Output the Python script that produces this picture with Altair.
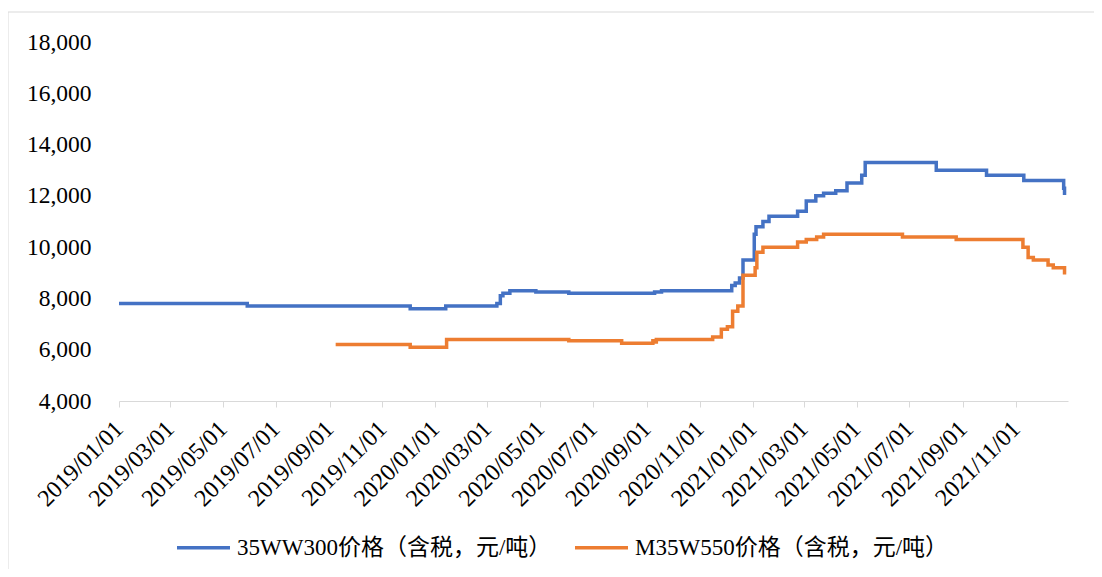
import altair as alt
import pandas as pd

S1 = "35WW300价格（含税，元/吨）"
S2 = "M35W550价格（含税，元/吨）"

blue_dates = ["2019-01-01", "2019-05-29", "2019-12-03", "2020-01-13", "2020-03-12", "2020-03-16",
              "2020-03-19", "2020-03-27", "2020-04-26", "2020-06-03", "2020-09-10", "2020-09-18",
              "2020-12-08", "2020-12-12", "2020-12-17", "2020-12-21", "2021-01-03", "2021-01-05",
              "2021-01-13", "2021-01-20", "2021-02-22", "2021-03-04", "2021-03-15", "2021-03-24",
              "2021-04-07", "2021-04-20", "2021-05-07", "2021-05-11", "2021-08-01", "2021-09-28",
              "2021-11-10", "2021-12-26", "2021-12-27", "2021-12-29"]
blue_vals = [7800, 7700, 7600, 7700, 7800, 8100,
             8200, 8300, 8250, 8200, 8250, 8300,
             8500, 8600, 8800, 9500, 10500, 10800,
             11000, 11200, 11400, 11800, 12000, 12100,
             12200, 12500, 12800, 13300, 13000, 12800,
             12600, 12300, 12100, 12100]

orange_dates = ["2019-09-08", "2019-12-03", "2020-01-14", "2020-06-03", "2020-08-03", "2020-09-08",
                "2020-09-10", "2020-09-12", "2020-11-16", "2020-11-26", "2020-12-03", "2020-12-09",
                "2020-12-15", "2020-12-21", "2021-01-04", "2021-01-06", "2021-01-13", "2021-02-22",
                "2021-03-04", "2021-03-16", "2021-03-24", "2021-06-23", "2021-08-24", "2021-11-09",
                "2021-11-15", "2021-11-21", "2021-12-08", "2021-12-14", "2021-12-27", "2021-12-29"]
orange_vals = [6200, 6100, 6400, 6350, 6250, 6350,
               6300, 6400, 6500, 6800, 6900, 7500,
               7700, 8900, 9200, 9800, 10000, 10200,
               10300, 10400, 10500, 10400, 10300, 10000,
               9600, 9500, 9300, 9200, 9000, 9000]

y_ticks = [4000, 6000, 8000, 10000, 12000, 14000, 16000, 18000]

df = pd.concat([
    pd.DataFrame({"date": blue_dates, "price": blue_vals, "series": S1}),
    pd.DataFrame({"date": orange_dates, "price": orange_vals, "series": S2}),
])

FONT = "Liberation Serif"
LFONT = "Liberation Serif, Noto Sans CJK SC"

x_ticks = []
for yr in (2019, 2020, 2021):
    for m in (1, 3, 5, 7, 9, 11):
        x_ticks.append(alt.DateTime(year=yr, month=m, date=1, utc=True))

lines = alt.Chart(df).mark_line(interpolate="step-after", strokeWidth=3.5).encode(
    x=alt.X("date:T",
            scale=alt.Scale(type="utc",
                            domain=[alt.DateTime(year=2019, month=1, date=1, utc=True),
                                    alt.DateTime(year=2021, month=12, date=31, utc=True)]),
            axis=alt.Axis(values=x_ticks, format="%Y/%m/%d", labelAngle=-45, labelAlign="right",
                          labelBaseline="middle", labelPadding=18, grid=False,
                          domainColor="#D9D9D9", tickColor="#D9D9D9", tickSize=6,
                          labelFontSize=24, labelFont=FONT, labelColor="#000000",
                          title=None, labelOverlap=False)),
    y=alt.Y("price:Q",
            scale=alt.Scale(domain=[4000, 18000], nice=False),
            axis=alt.Axis(values=y_ticks, format=",.0f", grid=False, domain=False, ticks=False,
                          labelPadding=28, labelFontSize=23.5, labelFont=FONT,
                          labelColor="#000000", title=None)),
    color=alt.Color("series:N",
                    scale=alt.Scale(domain=[S1, S2], range=["#4472C4", "#ED7D31"]),
                    legend=alt.Legend(orient="none", legendX=56, legendY=477, direction="horizontal",
                                      title=None, symbolType="stroke", symbolSize=2809,
                                      symbolStrokeWidth=3.5, labelOffset=5, columnPadding=16,
                                      labelFontSize=23, labelFont=LFONT, labelColor="#000000",
                                      labelLimit=0)),
    detail="series:N",
)

frame = alt.Chart(pd.DataFrame({"a": [1]})).mark_rect(
    fillOpacity=0, stroke="#D9D9D9", strokeWidth=1
).encode(x=alt.value(-111), x2=alt.value(1000), y=alt.value(-30), y2=alt.value(600))

chart = alt.layer(frame, lines).properties(
    width=949, height=359,
    autosize="none",
    background="#FFFFFF",
    padding={"left": 111, "top": 34, "right": 26, "bottom": 168},
).configure_view(stroke="transparent")

chart.save("out.html", embed_options={"renderer": "svg", "actions": False})
